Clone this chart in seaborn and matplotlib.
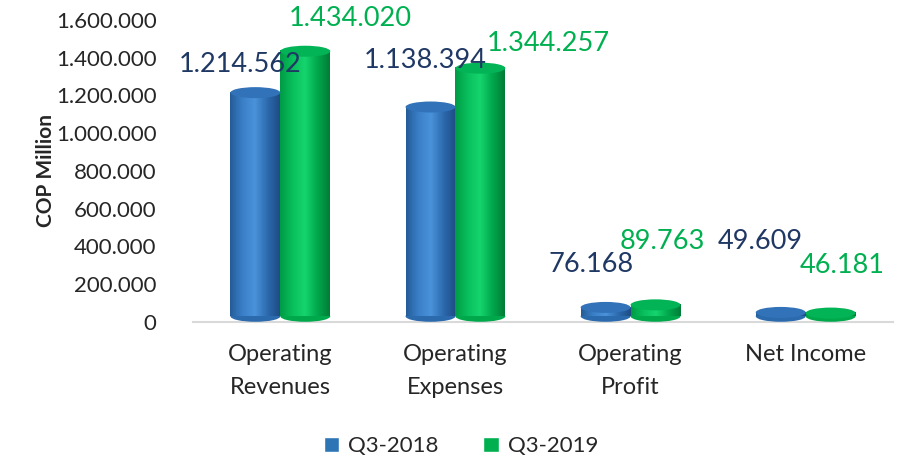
import matplotlib.pyplot as plt
import seaborn as sns
import pandas as pd
import numpy as np
from matplotlib.patches import Ellipse
from matplotlib.colors import LinearSegmentedColormap

# data (COP million)
categories = ['Operating\nRevenues', 'Operating\nExpenses', 'Operating\nProfit', 'Net Income']
q3_2018 = [1214562, 1138394, 76168, 49609]
q3_2019 = [1434020, 1344257, 89763, 46181]
series = ['Q3-2018', 'Q3-2019']
yticks = [0, 200000, 400000, 600000, 800000, 1000000, 1200000, 1400000, 1600000]

df = pd.DataFrame({
    'Category': categories * 2,
    'Value': q3_2018 + q3_2019,
    'Period': [series[0]] * 4 + [series[1]] * 4,
})

sns.set_theme(style='white')
plt.rcParams['font.family'] = ['Lato', 'DejaVu Sans']

bar_colors = {'Q3-2018': '#2E75B6', 'Q3-2019': '#00B050'}
label_colors = {'Q3-2018': '#1F3864', 'Q3-2019': '#00B050'}
# shading across each cylinder (left edge -> highlight -> right edge)
shades = {'Q3-2018': ['#245B97', '#3A80C8', '#4A92DA', '#2C6AAE', '#1E4C82'],
          'Q3-2019': ['#009A45', '#08BF5C', '#15D46E', '#00A84C', '#007C37']}
cap_colors = {'Q3-2018': '#3272B8', 'Q3-2019': '#02B455'}
# label offsets in pixels, mimicking Excel's 3D label placement
label_dx = {'Q3-2018': [-15, -5, -15, -20], 'Q3-2019': [45, 68, 7, 12]}
label_dy = {'Q3-2018': [28, 47, 43, 71], 'Q3-2019': [33, 25, 63, 48]}


def fmt(v):
    return f"{v:,.0f}".replace(',', '.')


fig = plt.figure(figsize=(9.18, 4.63), dpi=100)
ax = fig.add_axes([0.21, 0.305, 0.763, 0.652])

sns.barplot(data=df, x='Category', y='Value', hue='Period', palette=bar_colors,
            width=0.57, saturation=1, ax=ax, legend=True)

ax.set_ylim(0, 1600000)
ax.set_xlim(-0.5, 3.5)
cap_h = 11 * 1600000 / 302  # ellipse height ~11 px in data units
base = cap_h * 0.5          # cylinders sit on the floor line

grad = np.linspace(0, 1, 256).reshape(1, -1)
for container, name in zip(ax.containers, series):
    cmap = LinearSegmentedColormap.from_list(name, shades[name])
    vals = df[df['Period'] == name]['Value'].tolist()
    for i, (bar, v) in enumerate(zip(container, vals)):
        x0, w = bar.get_x(), bar.get_width()
        cx = x0 + w / 2
        bar.set_alpha(0)
        # shaded body
        ax.imshow(grad, extent=[x0, x0 + w, base, v], aspect='auto', cmap=cmap,
                  zorder=2, origin='lower')
        # rounded bottom and flat top
        ax.add_patch(Ellipse((cx, base), w, cap_h, facecolor=shades[name][3],
                             edgecolor='none', zorder=1.9))
        ax.add_patch(Ellipse((cx, v), w, cap_h, facecolor=cap_colors[name],
                             edgecolor='none', zorder=2.1))
        ax.annotate(fmt(v), (cx, v), xytext=(label_dx[name][i], label_dy[name][i]),
                    textcoords='offset pixels', ha='center', va='center',
                    fontsize=19.5, color=label_colors[name], zorder=5,
                    annotation_clip=False)

ax.set_xlim(-0.5, 3.5)
ax.set_ylim(0, 1600000)
ax.set_yticks(yticks)
ax.set_yticklabels([fmt(t) for t in yticks], fontsize=16)
ax.set_xticks(range(len(categories)))
ax.set_xticklabels(categories, fontsize=17, linespacing=1.7)
ax.tick_params(axis='x', pad=16, length=0)
ax.tick_params(axis='y', length=0, pad=26)
ax.set_xlabel('')
ax.set_ylabel('COP Million', fontsize=15, fontweight='bold', labelpad=0)

for s in ['top', 'right', 'left']:
    ax.spines[s].set_visible(False)
ax.spines['bottom'].set_color('#D9D9D9')
ax.spines['bottom'].set_linewidth(1.5)
ax.spines['bottom'].set_zorder(0.5)

handles, labels = ax.get_legend_handles_labels()
for h in handles:
    h.set_alpha(1)
ax.get_legend().remove()
fig.legend(handles, labels, loc='center', bbox_to_anchor=(0.502, 0.036), ncol=2,
           frameon=False, fontsize=16, handlelength=0.7, handleheight=0.7,
           handletextpad=0.4, columnspacing=2.0)

fig.savefig('out.png', dpi=100)
